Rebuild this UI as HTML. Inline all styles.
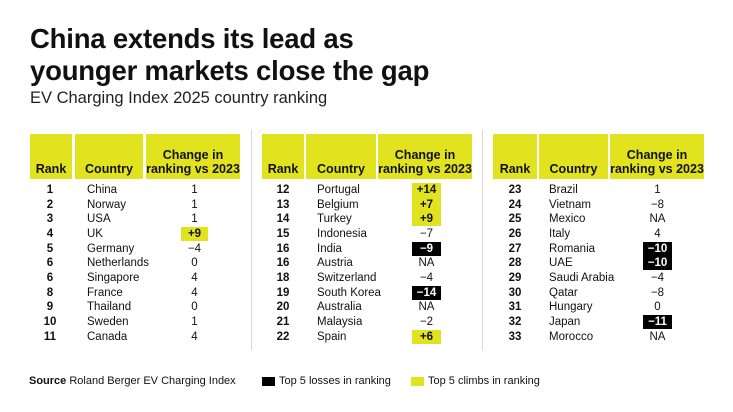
<!DOCTYPE html>
<html><head><meta charset="utf-8">
<style>
*{margin:0;padding:0;box-sizing:border-box}
body{width:733px;height:412px;background:#fff;font-family:"Liberation Sans",sans-serif;color:#111;position:relative;overflow:hidden}
.t{position:absolute;left:30px;font-weight:bold;font-size:27.5px;letter-spacing:-0.2px;line-height:30px}
.sub{position:absolute;left:30px;top:89px;font-size:16.5px;color:#222}
.h{position:absolute;top:134px;height:45px;background:#e1e31e;font-weight:bold;font-size:12.5px;line-height:14px;display:flex;align-items:flex-end;justify-content:center;text-align:center;padding-bottom:3px}
.r{position:absolute;font-size:11.5px;line-height:14px;height:14px}
.rk{font-weight:bold;text-align:center;width:44px}
.c{text-align:center}
.y{background:#e1e31e;font-weight:bold}
.k{background:#000;color:#fff;font-weight:bold}
.v{position:absolute;top:130px;width:1px;height:220px;background:#d6d6d6}
.f{position:absolute;top:374px;font-size:11px;line-height:14px}
</style></head><body>
<div class="t" style="top:24px">China extends its lead as</div>
<div class="t" style="top:56px">younger markets close the gap</div>
<div class="sub">EV Charging Index 2025 country ranking</div>

<div class="v" style="left:251px"></div>
<div class="v" style="left:482px"></div>

<div class="h" style="left:30px;width:42px">Rank</div>
<div class="h" style="left:75px;width:68px">Country</div>
<div class="h" style="left:146px;width:94px">Change in<br>ranking vs 2023</div>
<div class="h" style="left:262px;width:42px">Rank</div>
<div class="h" style="left:306px;width:70px">Country</div>
<div class="h" style="left:378px;width:94px">Change in<br>ranking vs 2023</div>
<div class="h" style="left:493px;width:44px">Rank</div>
<div class="h" style="left:539px;width:69px">Country</div>
<div class="h" style="left:610px;width:94px">Change in<br>ranking vs 2023</div>

<div class="r rk" style="left:28px;top:183px">1</div><div class="r" style="left:87px;top:183px">China</div><div class="r c" style="left:181px;width:27px;top:183px">1</div>
<div class="r rk" style="left:28px;top:198px">2</div><div class="r" style="left:87px;top:198px">Norway</div><div class="r c" style="left:181px;width:27px;top:198px">1</div>
<div class="r rk" style="left:28px;top:212px">3</div><div class="r" style="left:87px;top:212px">USA</div><div class="r c" style="left:181px;width:27px;top:212px">1</div>
<div class="r rk" style="left:28px;top:227px">4</div><div class="r" style="left:87px;top:227px">UK</div><div class="r c y" style="left:181px;width:27px;top:227px">+9</div>
<div class="r rk" style="left:28px;top:242px">5</div><div class="r" style="left:87px;top:242px">Germany</div><div class="r c" style="left:181px;width:27px;top:242px">−4</div>
<div class="r rk" style="left:28px;top:256px">6</div><div class="r" style="left:87px;top:256px">Netherlands</div><div class="r c" style="left:181px;width:27px;top:256px">0</div>
<div class="r rk" style="left:28px;top:271px">6</div><div class="r" style="left:87px;top:271px">Singapore</div><div class="r c" style="left:181px;width:27px;top:271px">4</div>
<div class="r rk" style="left:28px;top:286px">8</div><div class="r" style="left:87px;top:286px">France</div><div class="r c" style="left:181px;width:27px;top:286px">4</div>
<div class="r rk" style="left:28px;top:300px">9</div><div class="r" style="left:87px;top:300px">Thailand</div><div class="r c" style="left:181px;width:27px;top:300px">0</div>
<div class="r rk" style="left:28px;top:315px">10</div><div class="r" style="left:87px;top:315px">Sweden</div><div class="r c" style="left:181px;width:27px;top:315px">1</div>
<div class="r rk" style="left:28px;top:330px">11</div><div class="r" style="left:87px;top:330px">Canada</div><div class="r c" style="left:181px;width:27px;top:330px">4</div>

<div class="r rk" style="left:261px;top:183px">12</div><div class="r" style="left:317px;top:183px">Portugal</div><div class="r c y" style="left:412px;width:29px;top:183px;height:15px">+14</div>
<div class="r rk" style="left:261px;top:198px">13</div><div class="r" style="left:317px;top:198px">Belgium</div><div class="r c y" style="left:412px;width:29px;top:198px;height:15px">+7</div>
<div class="r rk" style="left:261px;top:212px">14</div><div class="r" style="left:317px;top:212px">Turkey</div><div class="r c y" style="left:412px;width:29px;top:212px">+9</div>
<div class="r rk" style="left:261px;top:227px">15</div><div class="r" style="left:317px;top:227px">Indonesia</div><div class="r c" style="left:412px;width:29px;top:227px">−7</div>
<div class="r rk" style="left:261px;top:242px">16</div><div class="r" style="left:317px;top:242px">India</div><div class="r c k" style="left:412px;width:29px;top:242px">−9</div>
<div class="r rk" style="left:261px;top:256px">16</div><div class="r" style="left:317px;top:256px">Austria</div><div class="r c" style="left:412px;width:29px;top:256px">NA</div>
<div class="r rk" style="left:261px;top:271px">18</div><div class="r" style="left:317px;top:271px">Switzerland</div><div class="r c" style="left:412px;width:29px;top:271px">−4</div>
<div class="r rk" style="left:261px;top:286px">19</div><div class="r" style="left:317px;top:286px">South Korea</div><div class="r c k" style="left:412px;width:29px;top:286px">−14</div>
<div class="r rk" style="left:261px;top:300px">20</div><div class="r" style="left:317px;top:300px">Australia</div><div class="r c" style="left:412px;width:29px;top:300px">NA</div>
<div class="r rk" style="left:261px;top:315px">21</div><div class="r" style="left:317px;top:315px">Malaysia</div><div class="r c" style="left:412px;width:29px;top:315px">−2</div>
<div class="r rk" style="left:261px;top:330px">22</div><div class="r" style="left:317px;top:330px">Spain</div><div class="r c y" style="left:412px;width:29px;top:330px">+6</div>

<div class="r rk" style="left:493px;top:183px">23</div><div class="r" style="left:549px;top:183px">Brazil</div><div class="r c" style="left:643px;width:29px;top:183px">1</div>
<div class="r rk" style="left:493px;top:198px">24</div><div class="r" style="left:549px;top:198px">Vietnam</div><div class="r c" style="left:643px;width:29px;top:198px">−8</div>
<div class="r rk" style="left:493px;top:212px">25</div><div class="r" style="left:549px;top:212px">Mexico</div><div class="r c" style="left:643px;width:29px;top:212px">NA</div>
<div class="r rk" style="left:493px;top:227px">26</div><div class="r" style="left:549px;top:227px">Italy</div><div class="r c" style="left:643px;width:29px;top:227px">4</div>
<div class="r rk" style="left:493px;top:242px">27</div><div class="r" style="left:549px;top:242px">Romania</div><div class="r c k" style="left:643px;width:29px;top:242px">−10</div>
<div class="r rk" style="left:493px;top:256px">28</div><div class="r" style="left:549px;top:256px">UAE</div><div class="r c k" style="left:643px;width:29px;top:256px">−10</div>
<div class="r rk" style="left:493px;top:271px">29</div><div class="r" style="left:549px;top:271px">Saudi Arabia</div><div class="r c" style="left:643px;width:29px;top:271px">−4</div>
<div class="r rk" style="left:493px;top:286px">30</div><div class="r" style="left:549px;top:286px">Qatar</div><div class="r c" style="left:643px;width:29px;top:286px">−8</div>
<div class="r rk" style="left:493px;top:300px">31</div><div class="r" style="left:549px;top:300px">Hungary</div><div class="r c" style="left:643px;width:29px;top:300px">0</div>
<div class="r rk" style="left:493px;top:315px">32</div><div class="r" style="left:549px;top:315px">Japan</div><div class="r c k" style="left:643px;width:29px;top:315px">−11</div>
<div class="r rk" style="left:493px;top:330px">33</div><div class="r" style="left:549px;top:330px">Morocco</div><div class="r c" style="left:643px;width:29px;top:330px">NA</div>

<div class="f" style="left:29px"><b>Source</b> Roland Berger EV Charging Index</div>
<div style="position:absolute;left:262px;top:377px;width:13px;height:9px;background:#000"></div>
<div class="f" style="left:279px">Top 5 losses in ranking</div>
<div style="position:absolute;left:411px;top:377px;width:13px;height:9px;background:#e1e31e"></div>
<div class="f" style="left:428px">Top 5 climbs in ranking</div>
</body></html>
